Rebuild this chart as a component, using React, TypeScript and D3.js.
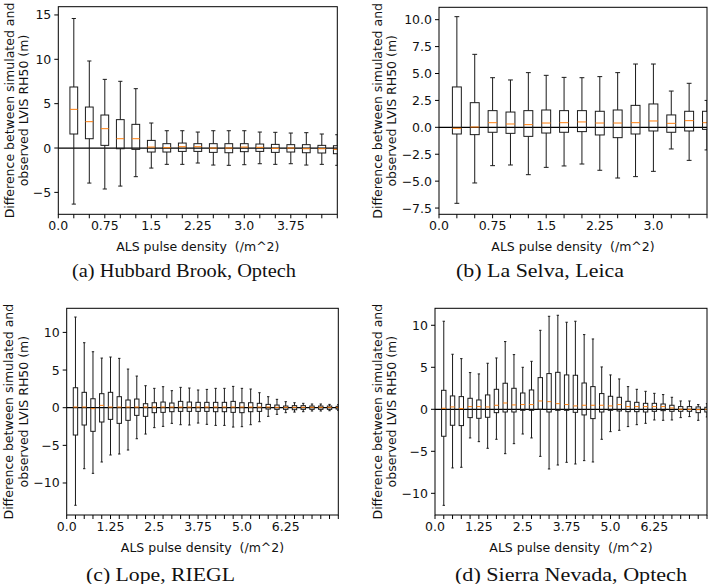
import React from "react";
import * as d3 from "d3";

// ---------- DATA ----------
// (a) Hubbard Brook, Optech — 18 boxes
const A_LO = [-6.32, -3.95, -4.62, -4.29, -3.23, -2.26, -1.84, -1.84, -1.69, -1.92, -1.95, -1.88, -1.77, -1.84, -1.77, -1.92, -1.84, -1.95];
const A_Q1 = [1.58, 1.05, 0.3, -0.08, -0.15, -0.45, -0.45, -0.38, -0.38, -0.49, -0.53, -0.41, -0.38, -0.49, -0.45, -0.53, -0.56, -0.64];
const A_MED = [4.36, 2.97, 2.18, 1.05, 1.05, 0.11, 0.04, 0.15, 0.15, 0.0, 0.0, 0.11, 0.08, -0.04, 0.0, -0.08, -0.08, -0.15];
const A_Q3 = [6.88, 4.62, 3.72, 3.2, 2.67, 0.86, 0.49, 0.56, 0.49, 0.49, 0.49, 0.49, 0.45, 0.41, 0.38, 0.38, 0.3, 0.26];
const A_HI = [14.6, 9.81, 7.74, 7.52, 6.69, 2.82, 1.95, 1.95, 1.8, 1.95, 1.95, 1.95, 1.8, 1.77, 1.69, 1.73, 1.58, 1.5];
const A_XTICK_AT = [0, 3, 6, 9, 12, 15];
const A_XLABELS = ["0.0", "0.75", "1.5", "2.25", "3.0", "3.75"];
const A_YTICKS = [-5, 0, 5, 10, 15];

// (b) La Selva, Leica — 15 boxes
const B_LO = [-7.06, -5.17, -3.56, -3.5, -4.4, -3.72, -3.59, -3.41, -3.99, -4.71, -4.58, -4.09, -2.01, -3.07, -2.1];
const B_Q1 = [-0.62, -0.68, -0.46, -0.56, -0.84, -0.53, -0.46, -0.4, -0.71, -0.96, -0.62, -0.34, -0.46, -0.34, -0.19];
const B_MED = [-0.09, 0.03, 0.43, 0.31, 0.25, 0.4, 0.43, 0.5, 0.4, 0.4, 0.43, 0.59, 0.37, 0.62, 0.43];
const B_Q3 = [3.75, 2.29, 1.55, 1.42, 1.55, 1.61, 1.55, 1.55, 1.49, 1.61, 2.04, 2.17, 1.15, 1.49, 1.49];
const B_HI = [10.28, 6.78, 4.61, 4.4, 5.08, 4.83, 4.64, 4.61, 4.71, 5.08, 5.88, 5.88, 3.37, 4.09, 2.5];
const B_XTICK_AT = [0, 3, 6, 9, 12];
const B_XLABELS = ["0.0", "0.75", "1.5", "2.25", "3.0"];
const B_YTICKS = [-7.5, -5, -2.5, 0, 2.5, 5, 7.5, 10];

// (c) Lope, RIEGL — 31 boxes
const C_LO = [-12.96, -8.1, -8.72, -7.21, -6.28, -6.15, -5.62, -4.12, -3.5, -2.65, -2.48, -2.08, -2.26, -2.3, -2.04, -2.21, -2.35, -2.35, -2.57, -2.52, -2.26, -1.86, -1.15, -0.88, -0.66, -0.58, -0.53, -0.44, -0.44, -0.4, -0.35];
const C_Q1 = [-3.63, -2.3, -3.14, -1.9, -1.55, -2.08, -1.68, -1.02, -1.15, -0.66, -0.62, -0.53, -0.49, -0.49, -0.49, -0.49, -0.53, -0.53, -0.62, -0.66, -0.53, -0.49, -0.18, -0.22, -0.22, -0.27, -0.22, -0.22, -0.22, -0.22, -0.18];
const C_MED = [0.09, 0.09, -0.13, 0.31, 0.09, 0.09, 0.09, 0.09, 0.09, 0.09, 0.09, 0.09, 0.09, 0.09, 0.09, 0.09, 0.09, 0.09, 0.09, 0.09, 0.09, 0.09, 0.09, 0.05, 0.05, 0.05, 0.05, 0.05, 0.05, 0.05, 0.05];
const C_Q3 = [2.65, 2.04, 1.19, 1.86, 2.04, 1.46, 1.02, 1.15, 0.53, 0.66, 0.75, 0.62, 0.84, 0.75, 0.71, 0.71, 0.71, 0.71, 0.84, 0.66, 0.66, 0.58, 0.44, 0.35, 0.22, 0.27, 0.27, 0.22, 0.22, 0.22, 0.18];
const C_HI = [12.04, 8.63, 7.43, 6.59, 6.73, 6.55, 5.13, 4.2, 2.92, 2.57, 2.79, 2.26, 2.7, 2.61, 2.35, 2.43, 2.57, 2.57, 2.83, 2.57, 2.48, 1.99, 1.46, 1.11, 0.8, 0.66, 0.58, 0.49, 0.49, 0.44, 0.4];
const C_XTICK_AT = [0, 5, 10, 15, 20, 25];
const C_XLABELS = ["0.0", "1.25", "2.5", "3.75", "5.0", "6.25"];
const C_YTICKS = [-10, -5, 0, 5, 10];

// (d) Sierra Nevada, Optech — 31 boxes
const D_LO = [-11.43, -6.98, -6.9, -3.41, -3.85, -4.64, -3.57, -5.28, -4.09, -2.94, -3.41, -5.6, -7.1, -6.63, -6.31, -6.51, -6.11, -6.27, -3.57, -2.66, -2.5, -2.06, -1.83, -1.67, -1.27, -1.31, -1.27, -0.99, -0.87, -1.31, -0.91];
const D_Q1 = [-3.21, -1.9, -1.94, -0.99, -1.07, -0.95, -0.4, -0.32, -0.32, -0.12, -0.12, 0.0, -0.32, -0.12, -0.12, -0.36, -0.67, -1.11, -0.32, -0.12, -0.2, -0.28, -0.28, -0.32, -0.24, -0.16, -0.24, -0.24, -0.24, -0.4, -0.32];
const D_MED = [0.12, 0.28, 0.08, 0.32, 0.32, 0.28, 0.48, 0.75, 0.52, 0.56, 0.56, 0.99, 0.91, 0.67, 0.56, 0.4, 0.48, 0.48, 0.48, 0.4, 0.56, 0.32, 0.32, 0.32, 0.32, 0.32, 0.16, 0.0, 0.0, -0.04, 0.0];
const D_Q3 = [2.26, 1.59, 1.51, 1.31, 1.11, 1.71, 2.38, 3.1, 2.5, 1.94, 2.3, 3.77, 4.25, 4.4, 4.09, 4.05, 3.13, 2.7, 1.87, 1.55, 1.43, 0.95, 0.83, 0.71, 0.71, 0.63, 0.48, 0.32, 0.32, 0.28, 0.24];
const D_HI = [10.48, 6.55, 6.03, 4.37, 4.21, 5.48, 6.11, 8.06, 6.51, 5.0, 5.71, 9.4, 11.07, 11.19, 10.36, 10.48, 8.89, 8.37, 5.04, 4.09, 3.61, 2.7, 2.38, 2.14, 1.9, 1.75, 1.43, 0.99, 0.99, 0.56, 0.67];
const D_XTICK_AT = [0, 5, 10, 15, 20, 25];
const D_XLABELS = ["0.0", "1.25", "2.5", "3.75", "5.0", "6.25"];
const D_YTICKS = [-10, -5, 0, 5, 10];

const Y_LABEL_1 = "Difference between simulated and";
const Y_LABEL_2 = "observed LVIS RH50 (m)";
const X_LABEL = "ALS pulse density  (/m^2)";
const CAPTIONS = ["(a) Hubbard Brook, Optech", "(b) La Selva, Leica", "(c) Lope, RIEGL", "(d) Sierra Nevada, Optech"];

// ---------- LAYOUT ----------
const SANS = "DejaVu Sans, sans-serif";
const SERIF = "Liberation Serif, DejaVu Serif, serif";
const FS = 12.5;

type Layout = {
  left: number; right: number; top: number; bottom: number;
  yDomain: [number, number]; n: number; yDec: number;
  yl1: number; yl2: number; capX: number; capY: number; capW: number; xlY: number;
};

const LAYOUTS: Layout[] = [
  { left: 58.3, right: 337.3, top: 6.7, bottom: 214.3, yDomain: [-7.47, 15.93], n: 18, yDec: 0, yl1: 9, yl2: 23, capX: 184, capY: 271, capW: 224, xlY: 246 },
  { left: 439, right: 707, top: 7.3, bottom: 214.3, yDomain: [-8.08, 11.15], n: 15, yDec: 1, yl1: 377, yl2: 391, capX: 540, capY: 271, capW: 168, xlY: 246 },
  { left: 66.7, right: 338.3, top: 308.3, bottom: 515, yDomain: [-14.25, 13.2], n: 31, yDec: 0, yl1: 8.5, yl2: 23, capX: 160.5, capY: 575, capW: 149, xlY: 547 },
  { left: 435, right: 707, top: 308.3, bottom: 515, yDomain: [-12.58, 12.02], n: 31, yDec: 0, yl1: 377, yl2: 391, capX: 571, capY: 575, capW: 232, xlY: 547 },
];

type PanelData = { lo: number[]; q1: number[]; med: number[]; q3: number[]; hi: number[]; xAt: number[]; xLabels: string[]; yTicks: number[] };

const PANELS: PanelData[] = [
  { lo: A_LO, q1: A_Q1, med: A_MED, q3: A_Q3, hi: A_HI, xAt: A_XTICK_AT, xLabels: A_XLABELS, yTicks: A_YTICKS },
  { lo: B_LO, q1: B_Q1, med: B_MED, q3: B_Q3, hi: B_HI, xAt: B_XTICK_AT, xLabels: B_XLABELS, yTicks: B_YTICKS },
  { lo: C_LO, q1: C_Q1, med: C_MED, q3: C_Q3, hi: C_HI, xAt: C_XTICK_AT, xLabels: C_XLABELS, yTicks: C_YTICKS },
  { lo: D_LO, q1: D_Q1, med: D_MED, q3: D_Q3, hi: D_HI, xAt: D_XTICK_AT, xLabels: D_XLABELS, yTicks: D_YTICKS },
];

const BOX_W = 0.5;
const CAP_W = 0.27;
const EDGE = "#1a1a1a";
const MEDIAN = "#ff7f0e";

function fmt(v: number, dec: number) {
  return v.toFixed(dec).replace("-", "\u2212");
}

function Panel({ L, D, idx }: { L: Layout; D: PanelData; idx: number }) {
  const x = d3.scaleLinear().domain([0, L.n]).range([L.left, L.right]);
  const y = d3.scaleLinear().domain(L.yDomain).range([L.bottom, L.top]);
  const bw = x(BOX_W) - x(0);
  const cw = x(CAP_W) - x(0);
  const clipId = `clip-${idx}`;
  const positions = d3.range(1, D.lo.length + 1);
  const minorTicks = d3.range(0, L.n + 1);
  const midY = (L.top + L.bottom) / 2;
  const midX = (L.left + L.right) / 2;
  return (
    <g>
      <defs>
        <clipPath id={clipId}>
          <rect x={L.left} y={L.top} width={L.right - L.left} height={L.bottom - L.top} />
        </clipPath>
      </defs>
      <g clipPath={`url(#${clipId})`}>
        <line x1={L.left} x2={L.right} y1={y(0)} y2={y(0)} stroke="#000" strokeWidth={1.2} />
        {positions.map((p, i) => {
          const cx = x(p);
          return (
            <g key={i} fill="none" stroke={EDGE} strokeWidth={1}>
              <line x1={cx} x2={cx} y1={y(D.hi[i])} y2={y(D.q3[i])} />
              <line x1={cx} x2={cx} y1={y(D.q1[i])} y2={y(D.lo[i])} />
              <line x1={cx - cw / 2} x2={cx + cw / 2} y1={y(D.hi[i])} y2={y(D.hi[i])} />
              <line x1={cx - cw / 2} x2={cx + cw / 2} y1={y(D.lo[i])} y2={y(D.lo[i])} />
              <rect x={cx - bw / 2} y={y(D.q3[i])} width={bw} height={y(D.q1[i]) - y(D.q3[i])} />
              <line x1={cx - bw / 2} x2={cx + bw / 2} y1={y(D.med[i])} y2={y(D.med[i])} stroke={MEDIAN} />
            </g>
          );
        })}
      </g>
      <rect x={L.left} y={L.top} width={L.right - L.left} height={L.bottom - L.top} fill="none" stroke="#000" strokeWidth={1} />
      {minorTicks.map((t) => (
        <line key={t} x1={x(t)} x2={x(t)} y1={L.bottom} y2={L.bottom + 4} stroke="#000" strokeWidth={1} />
      ))}
      {D.xAt.map((t, i) => (
        <text key={t} x={x(t)} y={L.bottom + 11} textAnchor="middle" dominantBaseline="central" fontFamily={SANS} fontSize={FS} fill="#111">
          {D.xLabels[i]}
        </text>
      ))}
      {D.yTicks.map((t) => (
        <g key={t}>
          <line x1={L.left - 4} x2={L.left} y1={y(t)} y2={y(t)} stroke="#000" strokeWidth={1} />
          <text x={L.left - 7} y={y(t)} textAnchor="end" dominantBaseline="central" fontFamily={SANS} fontSize={FS} fill="#111">
            {fmt(t, L.yDec)}
          </text>
        </g>
      ))}
      <text x={midX} y={L.xlY} textAnchor="middle" dominantBaseline="central" fontFamily={SANS} fontSize={FS} fill="#111" style={{ whiteSpace: "pre" }}>
        {X_LABEL}
      </text>
      <text transform={`translate(${L.yl1},${midY}) rotate(-90)`} textAnchor="middle" dominantBaseline="central" fontFamily={SANS} fontSize={FS} fill="#111">
        {Y_LABEL_1}
      </text>
      <text transform={`translate(${L.yl2},${midY}) rotate(-90)`} textAnchor="middle" dominantBaseline="central" fontFamily={SANS} fontSize={FS} fill="#111">
        {Y_LABEL_2}
      </text>
      <text x={L.capX} y={L.capY} textAnchor="middle" dominantBaseline="central" fontFamily={SERIF} fontSize={18} fill="#111" textLength={L.capW} lengthAdjust="spacingAndGlyphs">
        {CAPTIONS[idx]}
      </text>
    </g>
  );
}

export default function App() {
  return (
    <svg width={709} height={584} viewBox="0 0 709 584" style={{ position: "absolute", left: 0, top: 0, background: "#fff" }}>
      <rect width={709} height={584} fill="#fff" />
      {LAYOUTS.map((L, i) => (
        <Panel key={i} L={L} D={PANELS[i]} idx={i} />
      ))}
    </svg>
  );
}
